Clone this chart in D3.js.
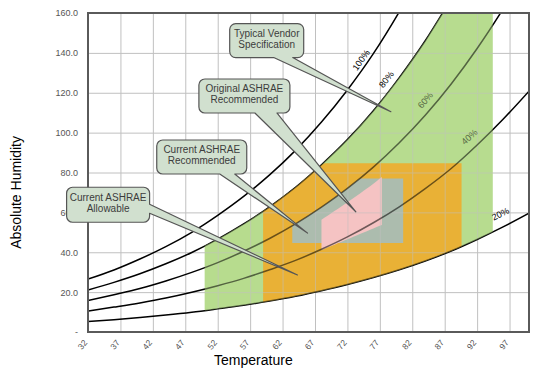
<!DOCTYPE html>
<html>
<head>
<meta charset="utf-8">
<script src="https://cdn.jsdelivr.net/npm/d3@7"></script>
<style>
  body { margin: 0; background: #fff; }
  svg { display: block; font-family: "Liberation Sans", Arial, sans-serif; }
</style>
</head>
<body>
<svg width="540" height="375"></svg>
<script>
// temperatures (F) where the humidity lines were read
const temps = [32, 36, 40, 44, 48, 52, 56, 60, 64, 68, 72, 76, 80, 84, 88, 92, 96, 100];
// absolute humidity along each relative humidity line
const rh100 = [26.5, 31.1, 36.6, 42.8, 50.0, 58.5, 68.0, 78.8, 91.1, 105.3, 121.4, 139.6, 160.6, 184.0];
const rh80  = [21.1, 24.9, 29.2, 34.2, 39.9, 46.6, 54.2, 62.8, 72.6, 83.9, 96.5, 111.0, 127.6, 146.1, 167.1];
const rh60  = [15.8, 18.7, 21.8, 25.6, 29.9, 34.8, 40.5, 46.9, 54.2, 62.6, 72.0, 82.7, 94.9, 108.7, 124.4, 142.2, 162.0, 183.6];
const rh40  = [10.5, 12.5, 14.6, 17.0, 19.9, 23.2, 26.9, 31.2, 35.9, 41.5, 47.7, 54.8, 62.8, 71.9, 82.0, 93.8, 106.7, 120.8];
const rh20  = [5.3, 6.2, 7.3, 8.5, 9.9, 11.6, 13.4, 15.5, 17.9, 20.7, 23.8, 27.3, 31.2, 35.6, 40.6, 46.4, 52.7, 59.6];
const rhNames = ['100%', '80%', '60%', '40%', '20%'];
const rhLines = [rh100, rh80, rh60, rh40, rh20];
// where each line label sits: [temperature, humidity]
const rhLabelAt = [[74.1, 136.4], [78.0, 126.7], [84.0, 116.3], [90.8, 97.9], [95.6, 59.2]];

// envelopes
const vendorT = [50, 94.4], vendorCap = 160;          // 20% .. 80% RH
const allowT = [59, 89.6], allowCap = 84.6;           // 20% .. 80% RH
const recT = [63.5, 80.6], recFloor = 44.6, recCap = 77; // up to 60% RH
const origT = [68, 77.3], origBottom = [41.1, 53.7];
const origTopT = [68, 72, 76, 80], origTop = [56.3, 65.0, 74.3, 85.0];

const xTicks = d3.range(32, 98, 5);
const yTicks = d3.range(0, 161, 20);

const svg = d3.select('svg');
const margin = { top: 13, right: 11, bottom: 43, left: 88 };
const width = 540 - margin.left - margin.right;
const height = 375 - margin.top - margin.bottom;

const x = d3.scaleLinear().domain([32, 100]).range([0, width]);
const y = d3.scaleLinear().domain([0, 160]).range([height, 0]);

const chart = svg.append('g').attr('transform', `translate(${margin.left}, ${margin.top})`);

chart.append('clipPath').attr('id', 'plot')
  .append('rect').attr('width', width).attr('height', height);

const along = (ts, vs) => t => {
  let i = d3.bisectRight(ts, t) - 1;
  i = Math.max(0, Math.min(i, vs.length - 2));
  const f = (t - ts[i]) / (ts[i + 1] - ts[i]);
  return vs[i] + f * (vs[i + 1] - vs[i]);
};

function band(tt, lo, hi) {
  const ts = d3.range(tt[0], tt[1], 0.5).concat([tt[1]]);
  const top = ts.map(t => [x(t), y(hi(t))]);
  const bot = ts.slice().reverse().map(t => [x(t), y(lo(t))]);
  return 'M' + top.concat(bot).join('L') + 'Z';
}

const f20 = along(temps, rh20), f60 = along(temps, rh60), f80 = along(temps, rh80);
const regions = [
  { fill: '#b7dc8f', d: band(vendorT, f20, t => Math.min(f80(t), vendorCap)) },
  { fill: '#e9b136', d: band(allowT, f20, t => Math.min(f80(t), allowCap)) },
  { fill: '#acbcae', d: band(recT, () => recFloor, t => Math.min(f60(t), recCap)) },
  { fill: '#f5c3c3', d: band(origT, along(origT, origBottom), along(origTopT, origTop)) }
];

const plot = chart.append('g').attr('clip-path', 'url(#plot)');

plot.append('g').selectAll('path').data(regions).enter().append('path')
  .attr('d', d => d.d).attr('fill', d => d.fill);

// grid
plot.append('g')
  .attr('transform', `translate(0, ${height})`)
  .call(d3.axisBottom(x).tickValues(xTicks).tickSize(-height).tickFormat(''))
  .call(g => g.select('.domain').remove())
  .selectAll('line').attr('stroke', '#c0c0c0');
plot.append('g')
  .call(d3.axisLeft(y).tickValues(yTicks).tickSize(-width).tickFormat(''))
  .call(g => g.select('.domain').remove())
  .selectAll('line').attr('stroke', '#c0c0c0');

// humidity lines
const line = d3.line().x(d => x(d[0])).y(d => y(d[1])).curve(d3.curveMonotoneX);
rhLines.forEach(vs => {
  plot.append('path')
    .datum(vs.map((v, i) => [temps[i], v]))
    .attr('d', line)
    .attr('fill', 'none')
    .attr('stroke', '#000')
    .attr('stroke-width', 1.5);
});

rhNames.forEach((name, i) => {
  const [t, h] = rhLabelAt[i];
  const f = along(temps, rhLines[i]);
  const ang = Math.atan2(y(f(t + 1)) - y(f(t - 1)), x(t + 1) - x(t - 1)) * 180 / Math.PI;
  plot.append('text')
    .attr('transform', `translate(${x(t)}, ${y(h)}) rotate(${ang})`)
    .attr('text-anchor', 'middle')
    .attr('dy', '0.35em')
    .attr('font-size', 9)
    .attr('fill', '#000')
    .text(name);
});

// tint lines and grid that run under the envelopes
plot.append('g').attr('opacity', 0.45)
  .selectAll('path').data(regions).enter().append('path')
  .attr('d', d => d.d).attr('fill', d => d.fill);

// frame
chart.append('rect')
  .attr('width', width).attr('height', height)
  .attr('fill', 'none').attr('stroke', '#5a5a5a').attr('stroke-width', 2);

// axes labels
chart.append('g')
  .attr('transform', `translate(0, ${height})`)
  .call(d3.axisBottom(x).tickValues(xTicks).tickSize(0).tickFormat(d => d))
  .call(g => g.select('.domain').remove())
  .selectAll('text')
  .attr('x', 0).attr('y', 0).attr('dy', '0.35em')
  .attr('text-anchor', 'end')
  .attr('transform', 'translate(-3, 9) rotate(-50)')
  .attr('font-size', 8.5)
  .attr('font-family', '"Liberation Sans", Arial, sans-serif')
  .attr('fill', '#555');

chart.append('g')
  .call(d3.axisLeft(y).tickValues(yTicks).tickSize(0).tickPadding(10)
    .tickFormat(d => d === 0 ? '-' : d.toFixed(1)))
  .call(g => g.select('.domain').remove())
  .selectAll('text')
  .attr('font-size', 9)
  .attr('font-family', '"Liberation Sans", Arial, sans-serif')
  .attr('fill', '#555');

svg.append('text')
  .attr('x', margin.left + x(57.5)).attr('y', 365)
  .attr('text-anchor', 'middle')
  .attr('font-size', 14)
  .attr('fill', '#000')
  .text('Temperature');

svg.append('text')
  .attr('transform', `translate(21, ${margin.top + y(70)}) rotate(-90)`)
  .attr('text-anchor', 'middle')
  .attr('font-size', 14)
  .attr('fill', '#000')
  .text('Absolute Humidity');

// callouts: box top-left and pointer tip in chart units
const callouts = [
  { lines: ['Current ASHRAE', 'Allowable'], at: [28.7, 72.6], w: 83, h: 35, side: 'right', a: 17, b: 26, tip: [64.3, 28.6] },
  { lines: ['Current  ASHRAE', 'Recommended'], at: [42.6, 96.3], w: 90, h: 34, side: 'bottom', a: 63, b: 78, tip: [65.85, 49.6] },
  { lines: ['Original ASHRAE', 'Recommended'], at: [49.1, 126.9], w: 91, h: 34, side: 'bottom', a: 56, b: 78, tip: [73.3, 60.3] },
  { lines: ['Typical Vendor', 'Specification'], at: [53.85, 154.7], w: 74, h: 34, side: 'bottom', a: 44, b: 63, tip: [78.7, 110.5] }
];

function calloutPath(c) {
  const x0 = x(c.at[0]), y0 = y(c.at[1]), x1 = x0 + c.w, y1 = y0 + c.h, r = 6;
  const tx = x(c.tip[0]), ty = y(c.tip[1]);
  let p = `M${x0 + r},${y0}H${x1 - r}A${r},${r} 0 0 1 ${x1},${y0 + r}`;
  if (c.side === 'right') p += `V${y0 + c.a}L${tx},${ty}L${x1},${y0 + c.b}`;
  p += `V${y1 - r}A${r},${r} 0 0 1 ${x1 - r},${y1}`;
  if (c.side === 'bottom') p += `H${x0 + c.b}L${tx},${ty}L${x0 + c.a},${y1}`;
  p += `H${x0 + r}A${r},${r} 0 0 1 ${x0},${y1 - r}V${y0 + r}A${r},${r} 0 0 1 ${x0 + r},${y0}Z`;
  return p;
}

const notes = chart.selectAll('.note').data(callouts).enter().append('g');
notes.append('path')
  .attr('d', calloutPath)
  .attr('fill', '#d1e0cf')
  .attr('stroke', '#555')
  .attr('stroke-width', 1.2)
  .attr('stroke-linejoin', 'round');
notes.each(function (c) {
  const cx = x(c.at[0]) + c.w / 2, cy = y(c.at[1]) + c.h / 2 - 2;
  d3.select(this).selectAll('text').data(c.lines).enter().append('text')
    .attr('x', cx)
    .attr('y', (d, i) => cy + (i - 0.5) * 11)
    .attr('dy', '0.35em')
    .attr('text-anchor', 'middle')
    .attr('font-size', 10)
    .attr('fill', '#3c3c3c')
    .text(d => d);
});
</script>
</body>
</html>
